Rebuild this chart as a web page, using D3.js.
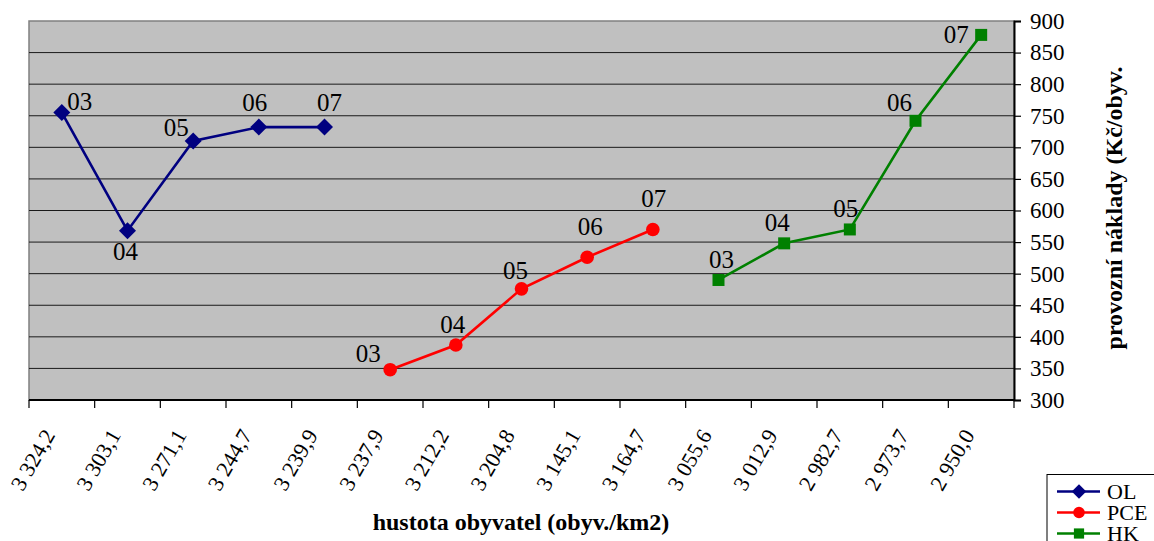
<!DOCTYPE html>
<html>
<head>
<meta charset="utf-8">
<script src="https://cdn.jsdelivr.net/npm/d3@7"></script>
<style>
  html, body { margin: 0; padding: 0; background: #fff; }
  svg { display: block; }
  svg text { font-family: "Liberation Serif", "Times New Roman", serif; }
</style>
</head>
<body>
<svg id="chart" width="1154" height="541"></svg>
<script>
// ---- data ----
const categories = ["3 324,2","3 303,1","3 271,1","3 244,7","3 239,9","3 237,9","3 212,2","3 204,8","3 145,1","3 164,7","3 055,6","3 012,9","2 982,7","2 973,7","2 950,0"];
const yearLabels = ["03","04","05","06","07"];
const olCategories = categories.slice(0, 5);
const olValues = [755, 568, 710, 732, 732];
const pceCategories = categories.slice(5, 10);
const pceValues = [348, 387, 476, 526, 570];
const hkCategories = categories.slice(10, 15);
const hkValues = [490, 548, 570, 742, 878];
const yTicks = [300, 350, 400, 450, 500, 550, 600, 650, 700, 750, 800, 850, 900];
const seriesNames = ["OL", "PCE", "HK"];
const seriesColors = ["#000080", "#FF0000", "#008000"];
// label placement offsets (layout only)
const labelOffsets = {
  OL:  [[18,-3],[-2,29],[-17,-5],[-4,-16],[5,-16]],
  PCE: [[-22,-8],[-3,-12],[-6,-10],[3,-22],[1,-22]],
  HK:  [[3,-12],[-7,-12],[-4,-12],[-16,-10],[-25,8]]
};

const series = [
  { name: "OL",  cats: olCategories,  vals: olValues,  color: seriesColors[0], marker: "diamond" },
  { name: "PCE", cats: pceCategories, vals: pceValues, color: seriesColors[1], marker: "circle" },
  { name: "HK",  cats: hkCategories,  vals: hkValues,  color: seriesColors[2], marker: "square" }
];

const FONT = "Liberation Serif";

// ---- layout ----
const svg = d3.select("#chart");
const plot = { left: 29, right: 1014, top: 21, bottom: 400 };

const x = d3.scaleBand().domain(categories).range([plot.left, plot.right]).padding(0);
const y = d3.scaleLinear().domain([300, 900]).range([plot.bottom, plot.top]);

// plot background
svg.append("rect")
  .attr("x", plot.left).attr("y", plot.top)
  .attr("width", plot.right - plot.left).attr("height", plot.bottom - plot.top)
  .attr("fill", "#C0C0C0").attr("stroke", "#808080").attr("stroke-width", 1.5);

// gridlines
svg.append("g").selectAll("line")
  .data(yTicks.filter(t => t > 300 && t < 900))
  .join("line")
  .attr("x1", plot.left).attr("x2", plot.right)
  .attr("y1", d => y(d)).attr("y2", d => y(d))
  .attr("stroke", "#1a1a1a").attr("stroke-width", 1);

// right axis
const yAxis = d3.axisRight(y).tickValues(yTicks).tickSize(7).tickPadding(9).tickFormat(d3.format("d"));
const gy = svg.append("g").attr("transform", `translate(${plot.right},0)`).call(yAxis)
  .attr("font-family", FONT);
gy.select(".domain").attr("stroke", "#000").attr("stroke-width", 2);
gy.selectAll(".tick line").attr("stroke", "#000").attr("stroke-width", 1.2);
gy.selectAll(".tick text").attr("font-size", 23).attr("fill", "#000")
  .attr("font-family", FONT);

// bottom axis (ticks between categories)
const gx = svg.append("g").attr("transform", `translate(0,${plot.bottom})`);
gx.append("line").attr("x1", plot.left).attr("x2", plot.right).attr("y1", 0).attr("y2", 0)
  .attr("stroke", "#000").attr("stroke-width", 2);
const boundaries = categories.map(c => x(c)).concat([plot.right]);
gx.selectAll("line.tk").data(boundaries).join("line").attr("class", "tk")
  .attr("x1", d => d).attr("x2", d => d).attr("y1", 0).attr("y2", 8)
  .attr("stroke", "#000").attr("stroke-width", 1.2);
gx.selectAll("text.cat").data(categories).join("text").attr("class", "cat")
  .attr("transform", d => `translate(${x(d) + x.bandwidth()/2 - 6},${435 - plot.bottom}) rotate(-60)`)
  .attr("text-anchor", "end")
  .attr("font-family", FONT)
  .attr("font-size", 22).attr("fill", "#000")
  .text(d => d);

// axis titles
svg.append("text")
  .attr("x", 521).attr("y", 530)
  .attr("text-anchor", "middle").attr("font-weight", "bold").attr("font-size", 24)
  .attr("font-family", FONT)
  .text("hustota obyvatel (obyv./km2)");
svg.append("text")
  .attr("transform", "translate(1122,208) rotate(-90)")
  .attr("text-anchor", "middle").attr("font-weight", "bold").attr("font-size", 24)
  .attr("font-family", FONT)
  .text("provozní náklady (Kč/obyv.");

// markers
function drawMarker(g, type, color, s) {
  if (type === "diamond") {
    g.append("path").attr("d", `M0,${-8.5*s}L${8.5*s},0L0,${8.5*s}L${-8.5*s},0Z`).attr("fill", color);
  } else if (type === "circle") {
    g.append("circle").attr("r", 6.8*s).attr("fill", color);
  } else {
    g.append("rect").attr("x", -6*s).attr("y", -6*s).attr("width", 12*s).attr("height", 12*s).attr("fill", color);
  }
}

const line = d3.line().x(d => x(d.c) + x.bandwidth()/2).y(d => y(d.v));

series.forEach(s => {
  const pts = s.cats.map((c, i) => ({ c, v: s.vals[i], lab: yearLabels[i], off: labelOffsets[s.name][i] }));
  const g = svg.append("g");
  g.append("path").datum(pts).attr("d", line)
    .attr("fill", "none").attr("stroke", s.color).attr("stroke-width", 2.6);
  pts.forEach(p => {
    const m = g.append("g").attr("transform", `translate(${x(p.c) + x.bandwidth()/2},${y(p.v)})`);
    drawMarker(m, s.marker, s.color, 1);
  });
  g.selectAll("text").data(pts).join("text")
    .attr("x", p => x(p.c) + x.bandwidth()/2 + p.off[0])
    .attr("y", p => y(p.v) + p.off[1])
    .attr("text-anchor", "middle").attr("font-size", 25).attr("fill", "#000")
    .attr("font-family", FONT)
    .text(p => p.lab);
});

// legend
const lg = svg.append("g");
lg.append("rect").attr("x", 1047).attr("y", 474.5).attr("width", 120).attr("height", 80)
  .attr("fill", "#fff").attr("stroke", "#000").attr("stroke-width", 1);
series.forEach((s, i) => {
  const ly = 491.5 + i * 21;
  lg.append("line").attr("x1", 1057).attr("x2", 1100).attr("y1", ly).attr("y2", ly)
    .attr("stroke", s.color).attr("stroke-width", 2.6);
  const m = lg.append("g").attr("transform", `translate(1079,${ly})`);
  drawMarker(m, s.marker, s.color, 0.85);
  lg.append("text").attr("x", 1107).attr("y", ly + 7.5).attr("font-size", 22).attr("fill", "#000")
    .attr("font-family", FONT)
    .text(seriesNames[i]);
});
</script>
</body>
</html>
